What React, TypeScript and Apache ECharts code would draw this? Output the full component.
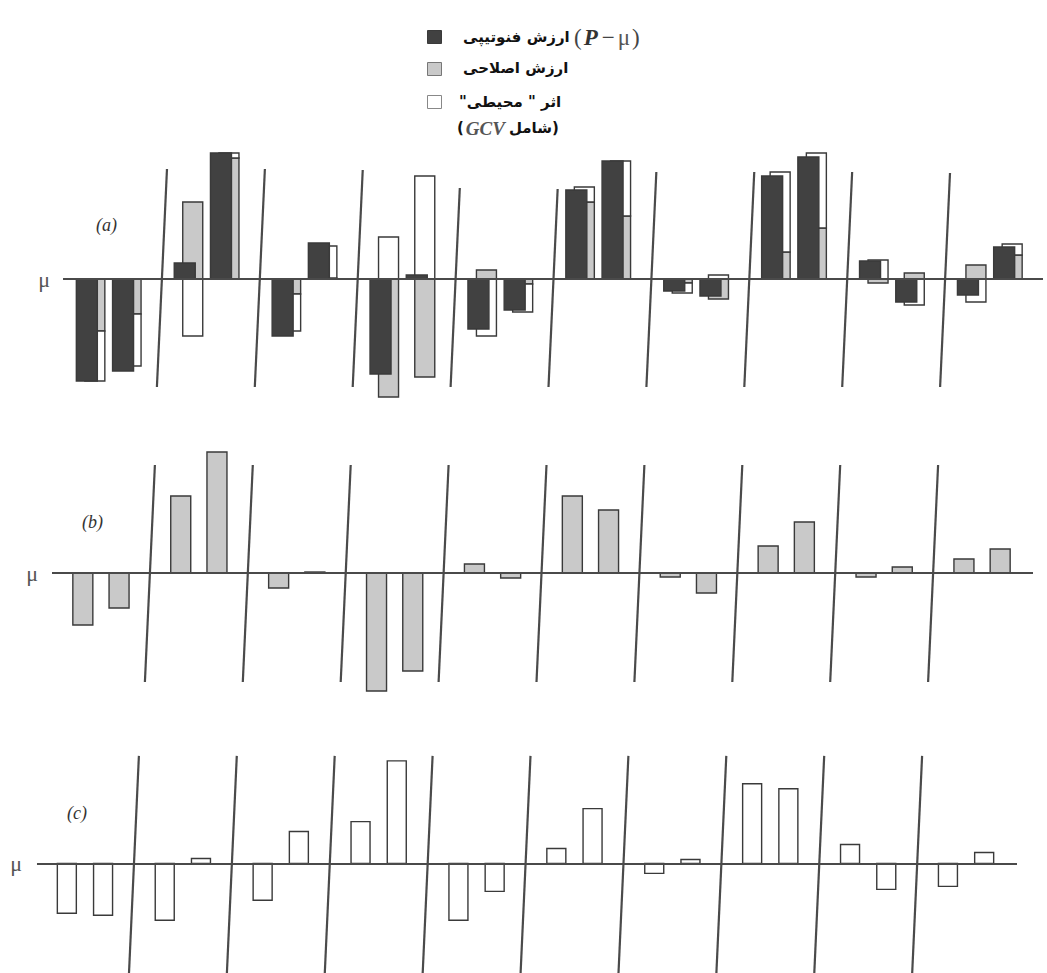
import { useEffect, useRef } from 'react';
import * as echarts from 'echarts';

// ---- data (20 individuals, 2 per cell, 10 cells) ----
const cellLabels = ['1', '2', '3', '4', '5', '6', '7', '8', '9', '10'];
const phenotypicValue = [-102, -92, 16, 126, -57, 36, -95, 4, -50, -31, 89, 118, -12, -17, 103, 122, 18, -23, -16, 32];
const breedingValue = [-52, -35, 77, 121, -15, 1, -118, -98, 9, -5, 77, 63, -4, -20, 27, 51, -4, 6, 14, 24];
const environmentalEffect = [-50, -52, -57, 5, -37, 32, 42, 103, -57, -28, 15, 55, -10, 4, 80, 75, 19, -26, -23, 11];
const boundaries = [1, 2, 3, 4, 5, 6, 7, 8, 9];

// ---- layout constants ----
const slotOffsets = [0.315, 0.685];
const lean = 0.051;
const LINE = '#4a4a4a';
const DARK = '#414141';
const GRAY = '#c9c9c9';
const EDGE = '#3a3a3a';
const RLM = '\u200F';

const xOf = (k: number) => Math.floor(k / 2) + slotOffsets[k % 2];

const simpleBars = (vals: number[]) => vals.map((v, k) => [xOf(k), 0, v]);

const stackedBars = () => {
  const gray: number[][] = [];
  const white: number[][] = [];
  breedingValue.forEach((a, k) => {
    const e = environmentalEffect[k];
    gray.push([xOf(k), 0, a]);
    if (a * e > 0) white.push([xOf(k), a, a + e]);
    else white.push([xOf(k), 0, e]);
  });
  return { gray, white };
};

const rectRender = (w: number, shift: number, fill: string, stroke: string) => (_p: any, api: any) => {
  const x = api.value(0);
  const y0 = api.value(1);
  const y1 = api.value(2);
  const p0 = api.coord([x, y0]);
  const p1 = api.coord([x, y1]);
  return {
    type: 'rect',
    shape: { x: p0[0] + shift - w / 2, y: Math.min(p0[1], p1[1]), width: w, height: Math.abs(p1[1] - p0[1]) },
    style: { fill, stroke, lineWidth: 1.4 },
  };
};

const barSeries = (idx: number, data: number[][], w: number, shift: number, fill: string, z: number) => ({
  type: 'custom',
  xAxisIndex: idx,
  yAxisIndex: idx,
  data,
  encode: { x: 0, y: [1, 2] },
  renderItem: rectRender(w, shift, fill, EDGE),
  silent: true,
  clip: false,
  z,
});

const dividerSeries = (idx: number, tops: number[], bottom: number) => ({
  type: 'lines',
  coordinateSystem: 'cartesian2d',
  xAxisIndex: idx,
  yAxisIndex: idx,
  silent: true,
  z: 1,
  lineStyle: { color: LINE, width: 2.2, opacity: 1 },
  data: boundaries.map((b, i) => ({ coords: [[b + lean * (tops[i] / 108), tops[i]], [b - lean, bottom]] })),
});

const baselineSeries = (idx: number, x0: number, x1: number) => ({
  type: 'lines',
  coordinateSystem: 'cartesian2d',
  xAxisIndex: idx,
  yAxisIndex: idx,
  silent: true,
  z: 5,
  lineStyle: { color: LINE, width: 2.2, opacity: 1 },
  data: [{ coords: [[x0, 0], [x1, 0]] }],
});

const muAxis = (idx: number, min: number, max: number, interval: number) => ({
  gridIndex: idx,
  type: 'value',
  min,
  max,
  interval,
  axisLine: { show: false },
  axisTick: { show: false },
  splitLine: { show: false },
  axisLabel: {
    formatter: (v: number) => (v === 0 ? 'μ' : ''),
    margin: 14,
    fontSize: 22,
    fontFamily: 'Liberation Serif',
    color: '#555',
  },
});

const FA = { fontFamily: 'DejaVu Sans', fontSize: 15, fontWeight: 'bold', fill: '#111' };

const persian = (x: number, y: number, text: string) => ({
  type: 'text',
  x,
  y,
  style: { text, font: 'bold 15px "DejaVu Sans"', fill: '#111', verticalAlign: 'middle', align: 'left' },
});

export default function App() {
  const ref = useRef<HTMLDivElement>(null);
  useEffect(() => {
    if (!ref.current) return;
    const chart = echarts.init(ref.current, undefined, { renderer: 'svg' });
    const { gray, white } = stackedBars();
    const tall = [108, 108, 108, 108, 108, 108, 108, 108, 108];
    const tallA = [110, 110, 109, 91, 90, 107, 107, 107, 106];
    const option: any = {
      animation: false,
      backgroundColor: '#ffffff',
      grid: [
        { left: 64, top: 139, width: 979, height: 280 },
        { left: 52, top: 433, width: 979, height: 280 },
        { left: 36, top: 724, width: 979, height: 250 },
      ],
      xAxis: [0, 1, 2].map((i) => ({
        gridIndex: i,
        type: 'value',
        min: 0,
        max: cellLabels.length,
        show: false,
      })),
      yAxis: [muAxis(0, -140, 140, 140), muAxis(1, -140, 140, 140), muAxis(2, -110, 140, 110)],
      series: [
        dividerSeries(0, tallA, -108),
        baselineSeries(0, -0.01, 10.0),
        barSeries(0, gray, 20, 0, GRAY, 2),
        barSeries(0, white, 20, 0, '#ffffff', 2),
        barSeries(0, simpleBars(phenotypicValue), 21, -8, DARK, 3),

        dividerSeries(1, tall, -109),
        baselineSeries(1, 0, 10.04),
        barSeries(1, simpleBars(breedingValue), 20, 0, GRAY, 3),

        dividerSeries(2, tall, -112),
        baselineSeries(2, 0.01, 10.07),
        barSeries(2, simpleBars(environmentalEffect), 19, 0, '#ffffff', 3),
      ],
      graphic: [
        { type: 'rect', left: 427, top: 30, shape: { width: 14, height: 13 }, style: { fill: DARK, stroke: EDGE, lineWidth: 1 } },
        { type: 'rect', left: 427, top: 62, shape: { width: 14, height: 13 }, style: { fill: GRAY, stroke: '#777', lineWidth: 1 } },
        { type: 'rect', left: 427, top: 95, shape: { width: 14, height: 13 }, style: { fill: '#fff', stroke: '#888', lineWidth: 1 } },
        persian(463, 37, 'ارزش فنوتیپی'),
        {
          type: 'text', x: 574, y: 37,
          style: {
            text: '{n|(}{p|P}{m|−}{u|μ}{n|)}', verticalAlign: 'middle', align: 'left',
            rich: {
              n: { fontFamily: 'Liberation Serif', fontSize: 23, fill: '#444' },
              p: { fontFamily: 'Liberation Serif', fontSize: 23, fontStyle: 'italic', fontWeight: 'bold', fill: '#333', padding: [0, 2, 0, 2] },
              m: { fontFamily: 'Liberation Serif', fontSize: 23, fill: '#444', padding: [0, 2, 0, 2] },
              u: { fontFamily: 'Liberation Serif', fontSize: 23, fill: '#555', padding: [0, 2, 0, 1] },
            },
          },
        },
        persian(463, 68, 'ارزش اصلاحی'),
        persian(459, 102, 'اثر " محیطی"' + RLM),
        {
          type: 'text', x: 457, y: 128,
          style: {
            text: '{f|(}{g|GCV}{w|شامل}{f|)}', verticalAlign: 'middle', align: 'left',
            rich: {
              f: FA,
              w: FA,
              g: { fontFamily: 'Liberation Serif', fontSize: 19, fontStyle: 'italic', fontWeight: 'bold', fill: '#555', padding: [0, 4, 0, 2] },
            },
          },
        },
        { type: 'text', x: 96, y: 225, style: { text: '(a)', font: 'italic 18px "Liberation Serif"', fill: '#333', verticalAlign: 'middle' } },
        { type: 'text', x: 82, y: 522, style: { text: '(b)', font: 'italic 18px "Liberation Serif"', fill: '#333', verticalAlign: 'middle' } },
        { type: 'text', x: 67, y: 813, style: { text: '(c)', font: 'italic 18px "Liberation Serif"', fill: '#333', verticalAlign: 'middle' } },
      ],
    };
    chart.setOption(option);
    return () => chart.dispose();
  }, []);
  return <div ref={ref} style={{ position: 'absolute', left: 0, top: 0, width: 1047, height: 973, background: '#fff' }} />;
}
